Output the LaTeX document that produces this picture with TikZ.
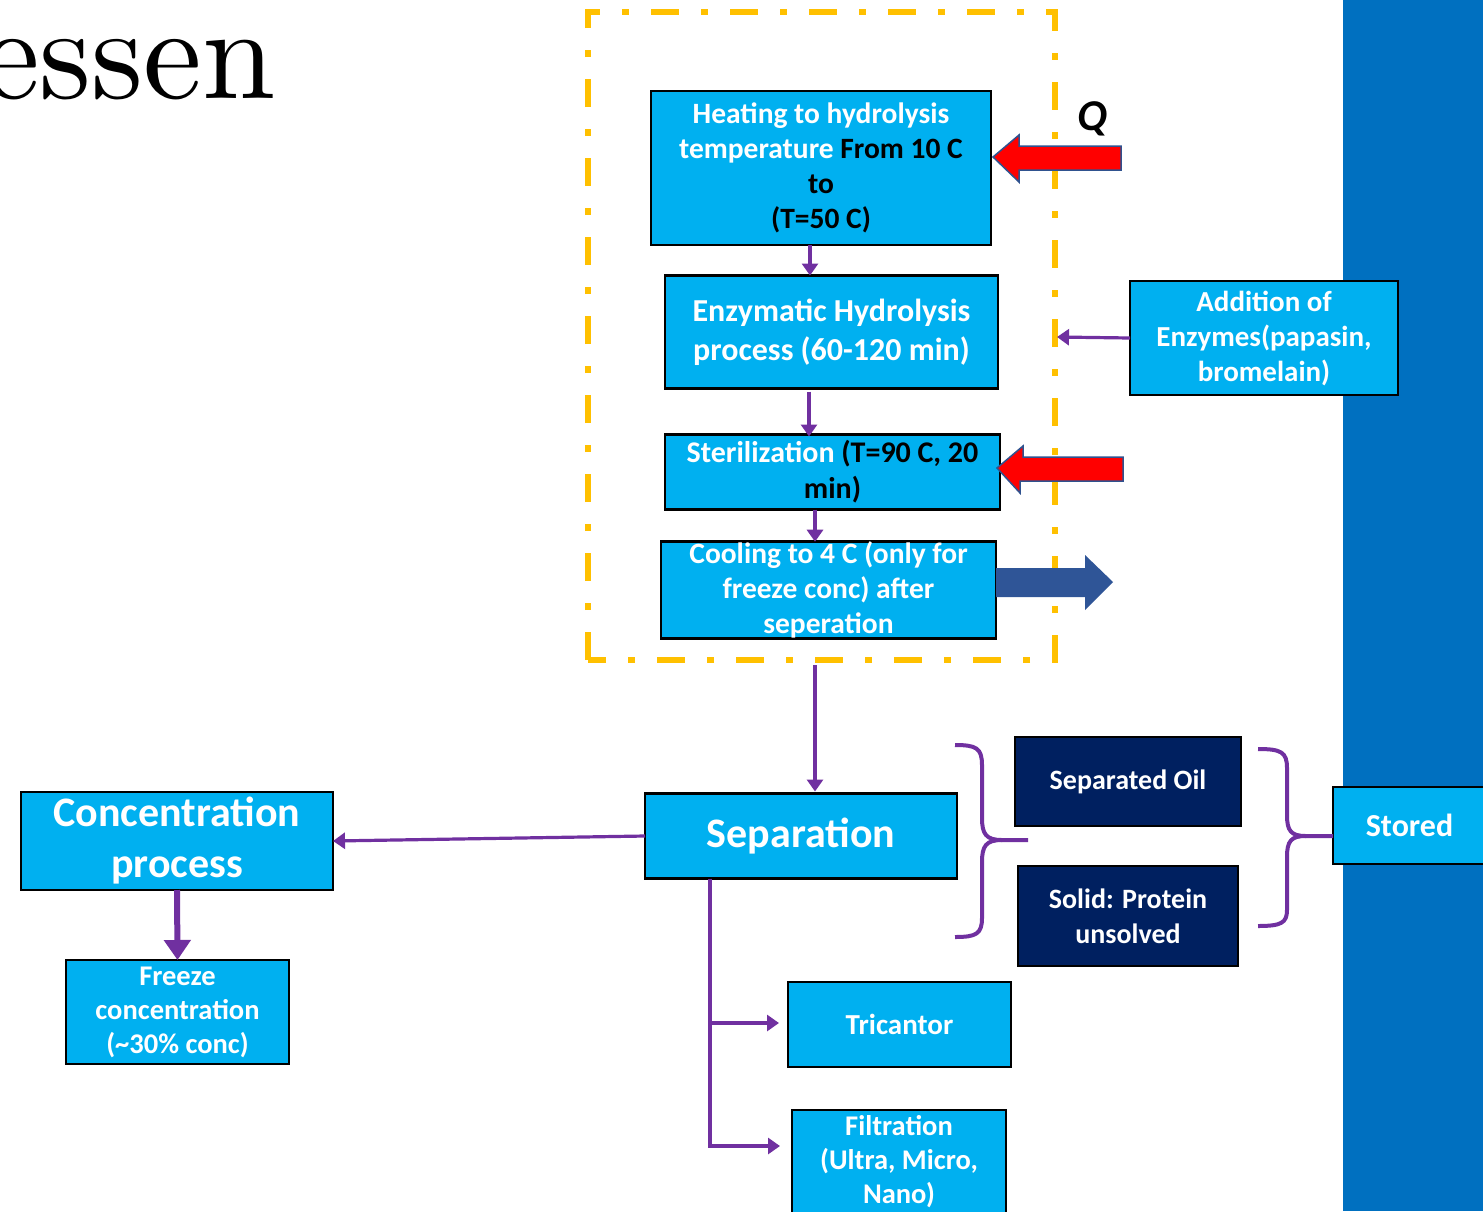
\documentclass[tikz,border=0pt]{standalone}
\usepackage{fontspec}
\newfontfamily\carl{Carlito}
\newfontfamily\lmten{lmroman10-regular.otf}
\usetikzlibrary{arrows.meta}
\definecolor{boxblue}{HTML}{00B0F0}
\definecolor{navy}{HTML}{002060}
\definecolor{panel}{HTML}{0070C0}
\definecolor{purp}{HTML}{7030A0}
\definecolor{frameor}{HTML}{FFC000}
\definecolor{arrowblue}{HTML}{2F5597}
\definecolor{redline}{HTML}{2F528F}
\tikzset{
  procbox/.style={draw=black, line width=2.5pt, fill=boxblue, text=white, align=center, inner sep=0pt, outer sep=0pt},
  navybox/.style={procbox, fill=navy},
  flow/.style={draw=purp, line width=3.2pt, -{Triangle[length=12pt,width=16pt]}},
  bigflow/.style={draw=purp, line width=6pt, -{Triangle[length=20pt,width=26pt]}},
  bracestyle/.style={draw=purp, line width=4pt},
  heatarrow/.style={fill=red, draw=redline, line width=1.5pt, line join=miter},
  outarrow/.style={fill=arrowblue, draw=none},
  framestyle/.style={draw=frameor, line width=6pt, dash pattern=on 28pt off 22pt on 7pt off 22pt}
}
\begin{document}
\begin{tikzpicture}[x=1pt,y=-1pt]
\useasboundingbox (0,0) rectangle (1483,1211);
% right panel
\fill[panel] (1343,0) rectangle (1483,1211);
% title fragment
\node[anchor=base west, inner sep=0pt, font=\lmten\fontsize{132}{140}\selectfont] (title) at (-19,98) {essen};
% dashed frame
\draw[framestyle] (588,660) -- (588,12) -- (1055,12) -- (1055,660) -- cycle;
\coordinate (framebot) at (815,665);
\coordinate (frameright) at (1057,337);
% boxes
\node[procbox, minimum width=340pt, minimum height=154pt, font=\carl\bfseries\fontsize{29.5}{35}\selectfont] (heat) at (821,168)
  {Heating to hydrolysis\\temperature \textcolor{black}{From 10 C}\\\textcolor{black}{to}\\\textcolor{black}{(T=50 C)}};
\node[procbox, minimum width=333pt, minimum height=113pt, font=\carl\bfseries\fontsize{32}{39}\selectfont] (enz) at (831.5,332)
  {Enzymatic Hydrolysis\\process (60-120 min)};
\node[procbox, minimum width=335pt, minimum height=75pt, font=\carl\bfseries\fontsize{30}{36}\selectfont] (ster) at (832.5,472)
  {Sterilization \textcolor{black}{(T=90 C, 20}\\\textcolor{black}{min)}};
\node[procbox, minimum width=335pt, minimum height=94pt, font=\carl\bfseries\fontsize{29.5}{35}\selectfont] (cool) at (828.5,590)
  {Cooling to 4 C (only for\\freeze conc) after\\seperation};
\node[procbox, minimum width=268pt, minimum height=114pt, font=\carl\bfseries\fontsize{29}{35}\selectfont] (add) at (1264,338)
  {Addition of\\Enzymes(papasin,\\bromelain)};
\node[procbox, minimum width=312pt, minimum height=85pt, font=\carl\bfseries\fontsize{42}{48}\selectfont] (sep) at (801,836)
  {Separation};
\node[procbox, minimum width=312pt, minimum height=98pt, font=\carl\bfseries\fontsize{42}{51}\selectfont] (conc) at (177,841)
  {Concentration\\process};
\node[procbox, minimum width=223pt, minimum height=104pt, font=\carl\bfseries\fontsize{28.5}{34}\selectfont] (freeze) at (177.5,1012)
  {Freeze\\concentration\\(\textasciitilde30\% conc)};
\node[procbox, minimum width=223pt, minimum height=85pt, font=\carl\bfseries\fontsize{29}{34}\selectfont] (tric) at (899.5,1024.5)
  {Tricantor};
\node[procbox, minimum width=214pt, minimum height=104pt, font=\carl\bfseries\fontsize{28.5}{34}\selectfont] (filt) at (899,1162)
  {Filtration\\(Ultra, Micro,\\Nano)};
\node[navybox, minimum width=226pt, minimum height=89pt, font=\carl\bfseries\fontsize{28}{34}\selectfont] (oil) at (1128,781.5)
  {Separated Oil};
\node[navybox, minimum width=220pt, minimum height=100pt, font=\carl\bfseries\fontsize{28}{35}\selectfont] (solid) at (1128,916)
  {Solid: Protein\\unsolved};
\node[procbox, minimum width=153pt, minimum height=77pt, font=\carl\bfseries\fontsize{32}{38}\selectfont] (stored) at (1409.5,825.5)
  {Stored};
% heat input arrows
\draw[heatarrow] (heat.east |- 0,157) ++(2,0) -- ++(26,-22) -- ++(0,11) -- (1121,146) -- (1121,170) -- (1019,170) -- ++(0,12) -- cycle;
\node[font=\carl\bfseries\itshape\fontsize{44}{46}\selectfont, inner sep=0pt] (q) at (1092,119) {Q};
\draw[heatarrow] (ster.east |- 0,468) ++(-3,0) -- ++(26,-22) -- ++(0,11) -- (1123,457) -- (1123,481) -- (1020,481) -- ++(0,12) -- cycle;
% output arrow
\fill[outarrow] (cool.east |- 0,568) -- (1085,568) -- (1085,555) -- (1113,582) -- (1085,610) -- (1085,597) -- (cool.east |- 0,597) -- cycle;
% flow arrows
\draw[flow] (heat.south -| 810,0) -- (enz.north -| 810,0);
\draw[flow] ([yshift=-3pt]enz.south -| 809,0) -- ([yshift=-2pt]ster.north -| 809,0);
\draw[flow] (ster.south -| 815,0) -- (cool.north -| 815,0);
\draw[flow] (add.west) -- (frameright);
\draw[flow] (framebot) -- ([yshift=2pt]sep.north -| framebot);
\draw[flow] (sep.west) -- (conc.east);
\draw[bigflow] (conc.south) -- (freeze.north);
\draw[flow] (sep.south -| 710,0) -- (710,1146) -- ([xshift=-12pt]filt.west |- 0,1146);
\draw[flow] (710,1023) -- ([xshift=-9pt]tric.west |- 0,1023);
% braces
\draw[bracestyle] (955,745) .. controls (976,745) and (982,748) .. (982,765) -- (982,818) .. controls (982,834) and (986,840) .. (1002,840) -- (1028,840);
\draw[bracestyle] (1002,840) .. controls (986,840) and (982,846) .. (982,862) -- (982,918) .. controls (982,934) and (976,937) .. (955,937);
\draw[bracestyle] (1258,749) .. controls (1281,749) and (1287,752) .. (1287,768) -- (1287,815) .. controls (1287,831) and (1291,836) .. (1306,836) -- (stored.west |- 0,836);
\draw[bracestyle] (1306,836) .. controls (1291,836) and (1287,841) .. (1287,857) -- (1287,910) .. controls (1287,923) and (1281,926) .. (1258,926);
\end{tikzpicture}
\end{document}
